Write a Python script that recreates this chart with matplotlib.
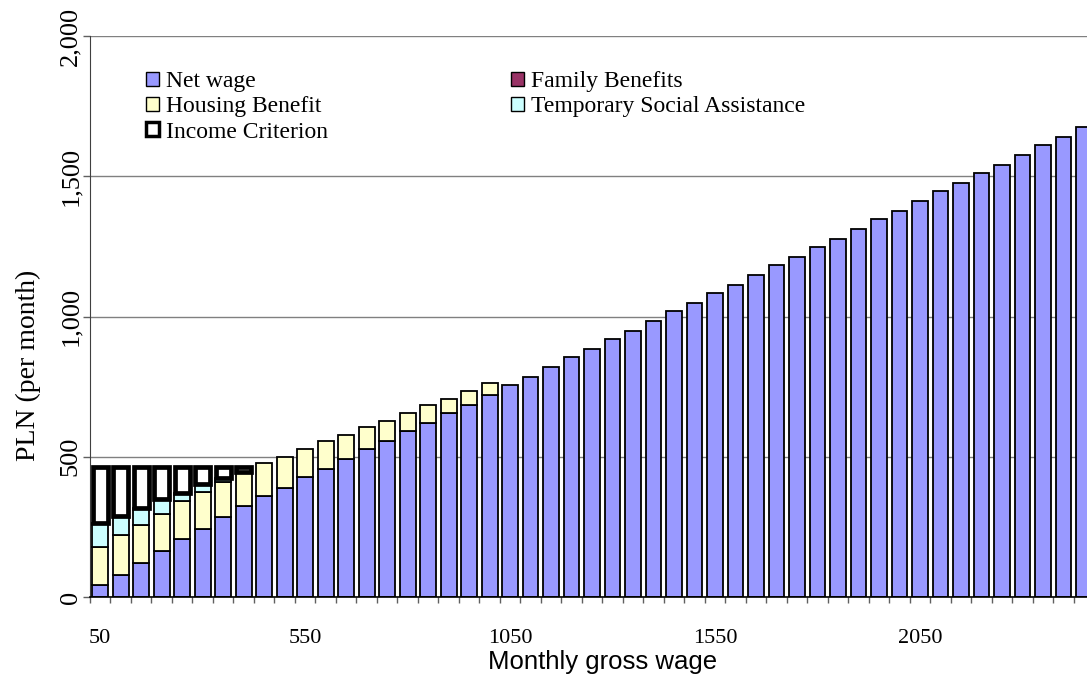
import numpy as np
import matplotlib.pyplot as plt
from matplotlib.patches import Patch
from matplotlib.ticker import FuncFormatter, FixedLocator

plt.rcParams['font.family'] = ['Liberation Serif', 'DejaVu Serif']

# monthly gross wage categories (every 50 PLN)
wages = list(range(50, 2451, 50))

net_wage = [43, 78, 120, 164, 207, 242, 284, 325, 361, 390,
            428, 456, 491, 526, 555, 592, 620, 655, 683, 720,
            756, 785, 820, 856, 884, 920, 948, 984, 1020, 1049,
            1084, 1112, 1148, 1184, 1212, 1248, 1276, 1312, 1348, 1376,
            1411, 1449, 1476, 1512, 1540, 1576, 1611, 1639, 1675]
family_benefits = [0] * len(wages)
housing_benefit = [134, 143, 135, 133, 135, 133, 127, 120, 116, 108,
                   100, 100, 88, 80, 74, 64, 64, 51, 51, 43] + [0] * 29
temp_social = [86, 68, 62, 51, 30, 27, 12, 0] + [0] * 41
income_criterion = [464, 464, 464, 464, 464, 464, 464, 464]

xtick_labels = ['50', '550', '1050', '1550', '2050']

col_net = '#9999FF'
col_fam = '#993366'
col_house = '#FFFFCC'
col_tsa = '#CCFFFF'

fig = plt.figure(figsize=(10.87, 6.82), dpi=100)
ax = fig.add_axes([90 / 1087, 85 / 682, 997 / 1087, 561 / 682])

x = np.arange(len(wages))
w = 0.77
lw = 1.3

net = np.array(net_wage, dtype=float)
fam = np.array(family_benefits, dtype=float)
hous = np.array(housing_benefit, dtype=float)
tsa = np.array(temp_social, dtype=float)

ax.bar(x, net, w, color=col_net, edgecolor='black', linewidth=lw, zorder=3)
bottom = net + fam
mask = hous > 0
ax.bar(x[mask], hous[mask], w, bottom=bottom[mask], color=col_house,
       edgecolor='black', linewidth=lw, zorder=3)
bottom = bottom + hous
mask = tsa > 0
ax.bar(x[mask], tsa[mask], w, bottom=bottom[mask], color=col_tsa,
       edgecolor='black', linewidth=lw, zorder=3)
bottom = bottom + tsa

# income criterion: white box from top of stack up to the criterion level
n_c = len(income_criterion)
gap = np.array(income_criterion) - bottom[:n_c]
ax.bar(x[:n_c], gap, w * 0.93, bottom=bottom[:n_c], color='white',
       edgecolor='black', linewidth=3.4, zorder=4)

ax.set_xlim(-0.5, 48.15)
ax.set_ylim(0, 2000)

ax.set_yticks([0, 500, 1000, 1500, 2000])
ax.yaxis.set_major_formatter(FuncFormatter(lambda v, p: f'{int(v):,}'))
ax.tick_params(axis='y', labelsize=19, length=5, width=1, color='#606060',
               pad=1, labelrotation=90)
for t in ax.get_yticklabels():
    t.set_va('center')

ax.set_xticks([0, 10, 20, 30, 40])
ax.set_xticklabels(xtick_labels)
ax.xaxis.set_minor_locator(FixedLocator(np.arange(-0.5, 49, 1)))
ax.tick_params(axis='x', which='major', length=0, labelsize=16, pad=23)
ax.tick_params(axis='x', which='minor', length=4.5, width=1, color='#606060')

ax.grid(axis='y', color='#808080', linewidth=1, zorder=0)
ax.set_axisbelow(True)
for s in ['top', 'right']:
    ax.spines[s].set_visible(False)
ax.spines['left'].set_color('#404040')
ax.spines['bottom'].set_color('black')
ax.spines['bottom'].set_linewidth(1.2)
ax.spines['bottom'].set_zorder(5)

fig.text(28 / 1087, 1 - 365 / 682, 'PLN (per month)', rotation=90,
         ha='center', va='center', fontsize=20)
fig.text(603 / 1087, 1 - 662 / 682, 'Monthly gross wage', ha='center',
         va='center', fontsize=18.5, family=['Liberation Sans', 'DejaVu Sans'])

# legend in two columns
h_net = Patch(facecolor=col_net, edgecolor='black', linewidth=1)
h_fam = Patch(facecolor=col_fam, edgecolor='black', linewidth=1)
h_house = Patch(facecolor=col_house, edgecolor='black', linewidth=1)
h_tsa = Patch(facecolor=col_tsa, edgecolor='black', linewidth=1)
h_crit = Patch(facecolor='white', edgecolor='black', linewidth=2.5)

leg_kw = dict(frameon=False, fontsize=17, handlelength=0.55, handleheight=0.55,
              handletextpad=0.3, labelspacing=0.18, borderpad=0,
              borderaxespad=0, loc='upper left')
leg1 = fig.legend([h_net, h_house, h_crit],
                  ['Net wage', 'Housing Benefit', 'Income Criterion'],
                  bbox_to_anchor=(146 / 1087, 1 - 71 / 682), **leg_kw)
leg2 = fig.legend([h_fam, h_tsa],
                  ['Family Benefits', 'Temporary Social Assistance'],
                  bbox_to_anchor=(511 / 1087, 1 - 71 / 682), **leg_kw)

fig.savefig('out.png', dpi=100)
